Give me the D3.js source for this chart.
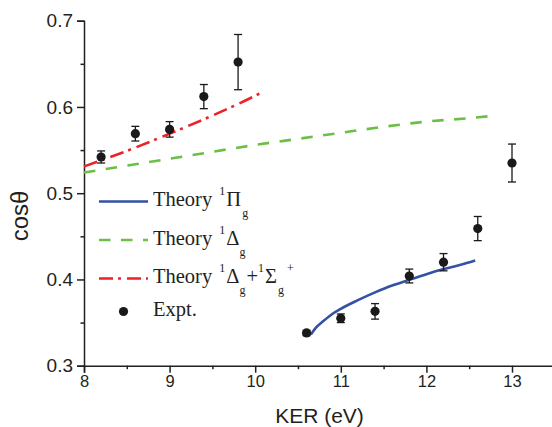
<!DOCTYPE html>
<html>
<head>
<meta charset="utf-8">
<script src="https://cdn.jsdelivr.net/npm/d3@7/dist/d3.min.js"></script>
<style>
  html, body { margin: 0; padding: 0; background: #fff; }
  svg { display: block; }
</style>
</head>
<body>
<svg id="chart" width="552" height="427"></svg>
<script>
// Experimental anisotropy cos(theta) vs kinetic energy release
const exptX   = [8.2, 8.6, 9.0, 9.4, 9.8, 10.6, 11.0, 11.4, 11.8, 12.2, 12.6, 13.0];
const exptY   = [0.542, 0.569, 0.574, 0.612, 0.652, 0.338, 0.355, 0.363, 0.404, 0.420, 0.459, 0.535];
const exptErr = [0.007, 0.0085, 0.009, 0.014, 0.032, 0.003, 0.005, 0.009, 0.008, 0.010, 0.014, 0.022];

// Theory curve, 1Pi_g state
const piX = [10.65, 10.7, 10.8, 10.9, 11.0, 11.2, 11.4, 11.6, 11.8, 12.0, 12.2, 12.4, 12.57];
const piY = [0.336, 0.343, 0.352, 0.360, 0.366, 0.376, 0.385, 0.393, 0.3995, 0.406, 0.412, 0.417, 0.422];

// Theory curve, 1Delta_g state
const deltaX = [8.0, 8.5, 9.0, 9.5, 10.0, 10.5, 11.0, 11.5, 12.0, 12.5, 12.8];
const deltaY = [0.524, 0.532, 0.540, 0.548, 0.556, 0.563, 0.570, 0.577, 0.583, 0.587, 0.590];

// Theory curve, 1Delta_g + 1Sigma_g+ states
const sumX = [8.0, 8.5, 9.0, 9.5, 10.0, 10.1];
const sumY = [0.531, 0.549, 0.569, 0.590, 0.613, 0.618];

const xTicks = [8, 9, 10, 11, 12, 13];
const xMinor = [8.5, 9.5, 10.5, 11.5, 12.5];
const yTicks = [0.3, 0.4, 0.5, 0.6, 0.7];
const yMinor = [0.35, 0.45, 0.55, 0.65];

const svg = d3.select("#chart");
const axisColor = "#231f20";

const x = d3.scaleLinear().domain([8, 13.5]).range([84, 554.8]);
const y = d3.scaleLinear().domain([0.3, 0.7]).range([365.7, 20.7]);

// Axes
const xAxis = svg.append("g").attr("transform", `translate(0,${y(0.3)})`)
  .call(d3.axisBottom(x).tickValues(xTicks).tickSize(7).tickPadding(3).tickFormat(d3.format("d")));
const xAxisMinor = svg.append("g").attr("transform", `translate(0,${y(0.3)})`)
  .call(d3.axisBottom(x).tickValues(xMinor).tickSize(3.5).tickFormat(""));
const yAxis = svg.append("g").attr("transform", `translate(${x(8)},0)`)
  .call(d3.axisLeft(y).tickValues(yTicks).tickSize(7).tickPadding(4).tickFormat(d3.format(".1f")));
const yAxisMinor = svg.append("g").attr("transform", `translate(${x(8)},0)`)
  .call(d3.axisLeft(y).tickValues(yMinor).tickSize(3.5).tickFormat(""));

[xAxis, xAxisMinor, yAxis, yAxisMinor].forEach(g => {
  g.select(".domain").attr("stroke", axisColor).attr("stroke-width", 1.5);
  g.selectAll(".tick line").attr("stroke", axisColor).attr("stroke-width", 1.5);
});
xAxisMinor.select(".domain").remove();
yAxisMinor.select(".domain").remove();

xAxis.selectAll(".tick text")
  .attr("font-family", "Liberation Sans, Arial, sans-serif")
  .attr("font-size", 16.5).attr("fill", axisColor);
yAxis.selectAll(".tick text")
  .attr("font-family", "Liberation Sans, Arial, sans-serif")
  .attr("font-size", 19).attr("fill", axisColor);

// Axis titles
svg.append("text")
  .attr("x", 319.5).attr("y", 423)
  .attr("text-anchor", "middle")
  .attr("font-family", "Liberation Sans, Arial, sans-serif")
  .attr("font-size", 21).attr("fill", axisColor)
  .text("KER (eV)");

svg.append("text")
  .attr("transform", "translate(28,216) rotate(-90)")
  .attr("text-anchor", "middle")
  .attr("font-family", "Liberation Sans, Arial, sans-serif")
  .attr("font-size", 24).attr("fill", axisColor)
  .text("cosθ");

// Theory curves
const line = d3.line().x(d => x(d[0])).y(d => y(d[1])).curve(d3.curveMonotoneX);
const zip = (a, b) => a.map((v, i) => [v, b[i]]);

const blue = "#3451a3", green = "#6bbf47", red = "#ec2227";

svg.append("path").datum(zip(deltaX, deltaY))
  .attr("d", line).attr("fill", "none")
  .attr("stroke", green).attr("stroke-width", 2.6)
  .attr("stroke-dasharray", "11.5,10.5");

svg.append("path").datum(zip(sumX, sumY))
  .attr("d", line).attr("fill", "none")
  .attr("stroke", red).attr("stroke-width", 2.6)
  .attr("stroke-dasharray", "14,5,3,6");

svg.append("path").datum(zip(piX, piY))
  .attr("d", line).attr("fill", "none")
  .attr("stroke", blue).attr("stroke-width", 2.6);

// Experimental points with error bars
const expt = exptX.map((v, i) => ({ k: v, c: exptY[i], e: exptErr[i] }));
const pts = svg.append("g").selectAll("g").data(expt).join("g");
pts.append("line")
  .attr("x1", d => x(d.k)).attr("x2", d => x(d.k))
  .attr("y1", d => y(d.c - d.e)).attr("y2", d => y(d.c + d.e))
  .attr("stroke", "#1a1a1a").attr("stroke-width", 1.3);
[-1, 1].forEach(s => {
  pts.append("line")
    .attr("x1", d => x(d.k) - 4).attr("x2", d => x(d.k) + 4)
    .attr("y1", d => y(d.c + s * d.e)).attr("y2", d => y(d.c + s * d.e))
    .attr("stroke", "#1a1a1a").attr("stroke-width", 1.3);
});
pts.append("circle")
  .attr("cx", d => x(d.k)).attr("cy", d => y(d.c))
  .attr("r", 4.6).attr("fill", "#1a1a1a");

// Legend
const legend = svg.append("g");
const serif = "Liberation Serif, Times New Roman, serif";
const rows = [
  { yy: 201.5, color: blue, dash: null },
  { yy: 240, color: green, dash: "11.5,10.5" },
  { yy: 278.5, color: red, dash: "14,5,3,6" }
];
rows.forEach(r => {
  legend.append("line")
    .attr("x1", 99).attr("x2", 148).attr("y1", r.yy).attr("y2", r.yy)
    .attr("stroke", r.color).attr("stroke-width", 2.6)
    .attr("stroke-dasharray", r.dash);
});
legend.append("circle").attr("cx", 123.5).attr("cy", 311.5).attr("r", 4.6).attr("fill", "#1a1a1a");

function legendText(yy, parts) {
  const t = legend.append("text")
    .attr("x", 153).attr("y", yy + 4.5)
    .attr("font-family", serif).attr("font-size", 20.5).attr("fill", axisColor);
  let shift = 0;
  parts.forEach(p => {
    const want = p.kind === "sup" ? -11 : p.kind === "sub" ? 11 : 0;
    const ts = t.append("tspan").attr("dy", want - shift).text(p.s);
    if (p.kind) ts.attr("font-size", 12);
    if (p.dx) ts.attr("dx", p.dx);
    shift = want;
  });
}
legendText(rows[0].yy, [
  { s: "Theory " }, { s: "1", kind: "sup", dx: 2 }, { s: "Π", dx: 1 }, { s: "g", kind: "sub", dx: 1 }
]);
legendText(rows[1].yy, [
  { s: "Theory " }, { s: "1", kind: "sup", dx: 2 }, { s: "Δ", dx: 1 }, { s: "g", kind: "sub", dx: 0 }
]);
legendText(rows[2].yy, [
  { s: "Theory " }, { s: "1", kind: "sup", dx: 2 }, { s: "Δ", dx: 1 }, { s: "g", kind: "sub", dx: 0 },
  { s: "+", dx: 1 }, { s: "1", kind: "sup" }, { s: "Σ", dx: 1 }, { s: "g", kind: "sub", dx: 1 },
  { s: "+", kind: "sup", dx: 3 }
]);
legendText(311.5, [{ s: "Expt." }]);
</script>
</body>
</html>
